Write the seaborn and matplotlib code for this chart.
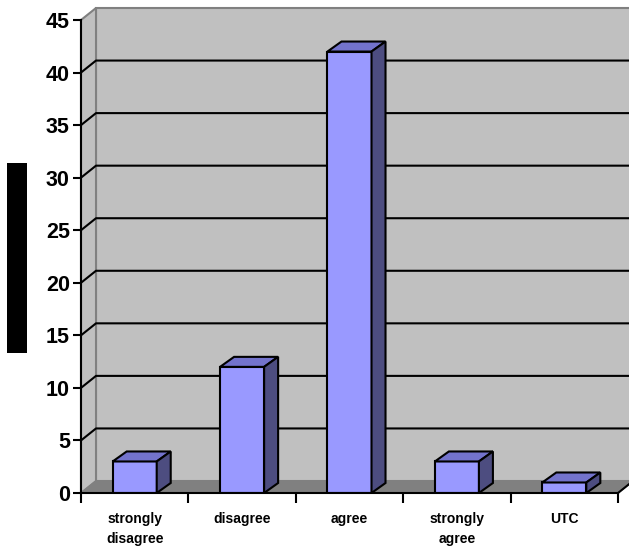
import numpy as np
import pandas as pd
import matplotlib
matplotlib.use('Agg')
import matplotlib.pyplot as plt
from matplotlib.patches import Polygon, Rectangle
import seaborn as sns

# data
categories = ['strongly\ndisagree', 'disagree', 'agree', 'strongly\nagree', 'UTC']
counts = [3, 12, 42, 3, 1]
y_ticks = [0, 5, 10, 15, 20, 25, 30, 35, 40, 45]

sns.set_theme(style='white')
plt.rcParams['font.family'] = ['Liberation Sans', 'DejaVu Sans']

W, H = 629, 549
fig = plt.figure(figsize=(W / 100, H / 100), dpi=100)
# front plane of the 3d box, in pixels: x 81..618, y 20..493
ax = fig.add_axes([81 / W, (H - 493) / H, (618 - 81) / W, (493 - 20) / H])
ax.patch.set_visible(False)

df = pd.DataFrame({'answer': categories, 'count': counts})
sns.barplot(data=df, x='answer', y='count', color='#9999FF', saturation=1,
            width=0.41, edgecolor='black', linewidth=1.5, ax=ax, zorder=3)
bars = list(ax.patches)

ax.set_xlim(-0.5, 4.5)
ax.set_ylim(0, 45)

# depth offsets, pixels -> data units
ppx = (618 - 81) / 5
ppy = (493 - 20) / 45
wdx, wdy = 15 / ppx, 12 / ppy
bdx, bdy = 14 / ppx, 10 / ppy

# back wall, side wall, floor
ax.add_patch(Rectangle((-0.5 + wdx, wdy), 5, 45, fc='#C0C0C0', ec='#808080',
                       lw=1.5, clip_on=False, zorder=0))
ax.add_patch(Polygon([(-0.5, 0), (-0.5, 45), (-0.5 + wdx, 45 + wdy), (-0.5 + wdx, wdy)],
                     fc='#C0C0C0', ec='#808080', lw=1.5, clip_on=False, zorder=0))
ax.add_patch(Polygon([(-0.5, 0), (4.5, 0), (4.5 + wdx, wdy), (-0.5 + wdx, wdy)],
                     fc='#808080', ec='#808080', lw=1, clip_on=False, zorder=0.5))
ax.plot([4.5, 4.5 + wdx], [0, wdy], color='black', lw=1.5, clip_on=False, zorder=1)

# gridlines on the walls
for v in y_ticks[1:-1]:
    ax.plot([-0.5, -0.5 + wdx, 4.5 + wdx], [v, v + wdy, v + wdy],
            color='black', lw=1.5, clip_on=False, zorder=1)

# top and side faces of the bars
for p in bars:
    x0, w, h = p.get_x(), p.get_width(), p.get_height()
    top = [(x0, h), (x0 + w, h), (x0 + w + bdx, h + bdy), (x0 + bdx, h + bdy)]
    side = [(x0 + w, 0), (x0 + w, h), (x0 + w + bdx, h + bdy), (x0 + w + bdx, bdy)]
    ax.add_patch(Polygon(top, fc='#7373CC', ec='black', lw=1.5, clip_on=False, zorder=3))
    ax.add_patch(Polygon(side, fc='#4D4D80', ec='black', lw=1.5, clip_on=False, zorder=3))

# axes styling
for s in ['top', 'right']:
    ax.spines[s].set_visible(False)
for s in ['left', 'bottom']:
    ax.spines[s].set_color('black')
    ax.spines[s].set_linewidth(1.5)
    ax.spines[s].set_zorder(4)

ax.set_yticks(y_ticks)
ax.tick_params(axis='y', direction='out', length=6, width=1.5, color='black',
               left=True, labelsize=15.5, labelcolor='black', pad=2)
for t in ax.get_yticklabels():
    t.set_fontweight('bold')

ax.set_xticks(range(len(categories)))
ax.set_xticks(np.arange(-0.5, 5, 1), minor=True)
ax.tick_params(axis='x', which='major', length=0, pad=14, labelsize=10,
               labelcolor='black')
ax.tick_params(axis='x', which='minor', direction='out', length=7, width=1.5,
               color='black', bottom=True)
for t in ax.get_xticklabels():
    t.set_fontweight('bold')
    t.set_linespacing(1.55)

ax.set_xlabel('')
ax.set_ylabel('')

# redacted axis title block on the left
fig.add_artist(Rectangle((7 / W, (H - 353) / H), 20 / W, 190 / H,
                         transform=fig.transFigure, fc='black', ec='none'))

plt.savefig('out.png', dpi=100)
